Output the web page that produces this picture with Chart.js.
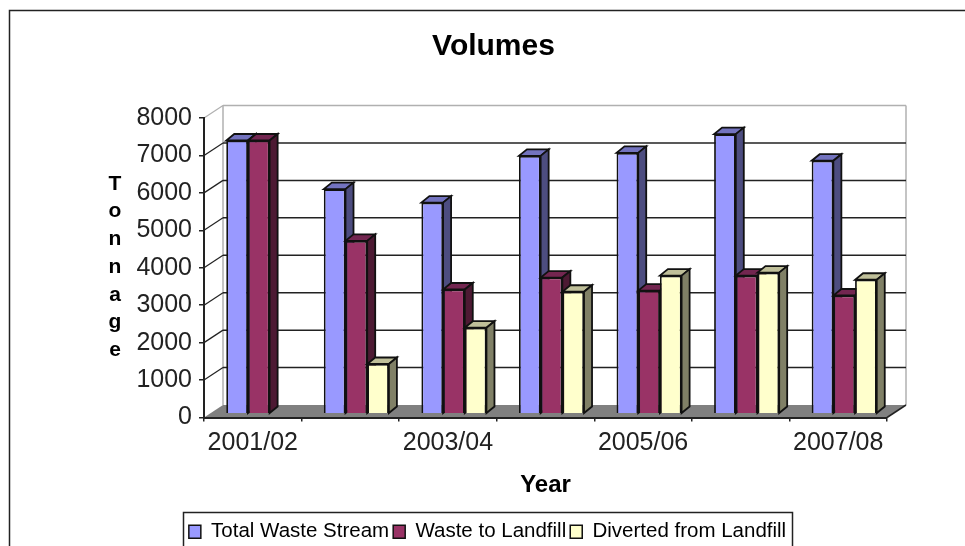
<!DOCTYPE html>
<html>
<head>
<meta charset="utf-8">
<style>
  html, body { margin: 0; padding: 0; background: #fff; overflow: hidden; }
  #wrap { width: 965px; height: 546px; position: relative; }
</style>
<script src="https://cdn.jsdelivr.net/npm/chart.js@4/dist/chart.umd.min.js"></script>
</head>
<body>
<div id="wrap"><canvas id="chart" width="965" height="546"></canvas></div>
<script>
const years = ['2001/02', '2002/03', '2003/04', '2004/05', '2005/06', '2006/07', '2007/08'];
const totalWasteStream = [7300, 6000, 5640, 6890, 6970, 7470, 6760];
const wasteToLandfill = [7300, 4620, 3320, 3640, 3290, 3690, 3160];
const divertedFromLandfill = [null, 1330, 2300, 3260, 3690, 3770, 3580];
const seriesNames = ['Total Waste Stream', 'Waste to Landfill', 'Diverted from Landfill'];
const faceColors = ['#9999FF', '#993366', '#FFFFCC'];
const topColors = ['#7373BF', '#732650', '#BFBF99'];
const sideColors = ['#4D4D80', '#4D1A33', '#808066'];
const axisLetters = ['T', 'o', 'n', 'n', 'a', 'g', 'e'];

const FONT = '"Liberation Sans", Arial, sans-serif';
const INK = '#222';

// Oblique offsets of the pseudo-3D projection
const WALL = { dx: 19, dy: -12.5 };
const BAR_PLANE = { dx: 6, dy: -3.7 };
const BAR_DEPTH = { dx: 8, dy: -6.5 };

function line(ctx, x1, y1, x2, y2, color, width) {
  ctx.strokeStyle = color;
  ctx.lineWidth = width;
  ctx.beginPath();
  ctx.moveTo(x1, y1);
  ctx.lineTo(x2, y2);
  ctx.stroke();
}

function poly(ctx, pts, fill, stroke) {
  ctx.beginPath();
  pts.forEach((p, i) => i ? ctx.lineTo(p[0], p[1]) : ctx.moveTo(p[0], p[1]));
  ctx.closePath();
  ctx.fillStyle = fill;
  ctx.fill();
  if (stroke) {
    ctx.strokeStyle = stroke;
    ctx.lineWidth = 1.8;
    ctx.stroke();
  }
}

// Back wall, floor, gridlines, outer frame, legend frame and the stacked axis title
const backdrop = {
  id: 'backdrop',
  afterLayout(chart) {
    // centre the title and legend on the whole sheet rather than the padded box
    chart.titleBlock.left += 45;
    chart.titleBlock.right += 45;
    chart.legend.left += 39;
    chart.legend.right += 39;
    chart.legend.top += 6;
  },
  beforeDraw(chart) {
    const { ctx, chartArea: a, scales: { y } } = chart;
    const { dx, dy } = WALL;
    ctx.save();
    ctx.fillStyle = '#fff';
    ctx.fillRect(0, 0, chart.width, chart.height);

    // sheet frame, running off the right and bottom edges
    ctx.strokeStyle = '#222';
    ctx.lineWidth = 1.5;
    ctx.strokeRect(9.5, 10.5, 1000, 600);

    // floor
    poly(ctx, [[a.left, a.bottom], [a.right, a.bottom], [a.right + dx, a.bottom + dy], [a.left + dx, a.bottom + dy]], '#808080');

    // back wall frame
    const wallGrey = '#b0b0b0';
    line(ctx, a.left + dx, a.top + dy, a.right + dx, a.top + dy, wallGrey, 1.5);
    line(ctx, a.left + dx, a.top + dy, a.left + dx, a.bottom + dy, wallGrey, 1.5);
    line(ctx, a.right + dx, a.top + dy, a.right + dx, a.bottom + dy, wallGrey, 1.5);
    line(ctx, a.left, a.top, a.left + dx, a.top + dy, wallGrey, 1.2);

    // gridlines run along the wall and turn down its side edge
    y.ticks.forEach(t => {
      if (t.value <= 0 || t.value >= y.max) return;
      const py = y.getPixelForValue(t.value);
      line(ctx, a.left, py, a.left + dx, py + dy, '#222', 1.2);
      line(ctx, a.left + dx, py + dy, a.right + dx, py + dy, '#222', 1.5);
    });
    line(ctx, a.right, a.bottom, a.right + dx, a.bottom + dy, '#222', 1.5);

    // legend frame, cut by the bottom edge
    ctx.strokeStyle = '#222';
    ctx.lineWidth = 1.5;
    ctx.strokeRect(183.5, 512.5, 609, 60);

    // stacked axis title
    ctx.fillStyle = '#000';
    ctx.font = 'bold 21px ' + FONT;
    ctx.textAlign = 'center';
    ctx.textBaseline = 'middle';
    axisLetters.forEach((ch, i) => ctx.fillText(ch, 115, 184 + i * 27.7));
    ctx.restore();
  },
  // Series are painted left to right so each bar's front hides its neighbour's side;
  // every bar gets top and side faces and sits in the middle of the floor's depth.
  beforeDatasetsDraw(chart) {
    const { ctx } = chart;
    const { dx, dy } = BAR_DEPTH;
    ctx.save();
    ctx.translate(BAR_PLANE.dx, BAR_PLANE.dy);
    chart.data.datasets.forEach((ds, i) => {
      const meta = chart.getDatasetMeta(i);
      meta.data.forEach((bar, j) => {
        if (ds.data[j] === null) return;
        const l = bar.x - bar.width / 2, r = bar.x + bar.width / 2;
        poly(ctx, [[l, bar.y], [r, bar.y], [r + dx, bar.y + dy], [l + dx, bar.y + dy]], topColors[i], '#111');
        poly(ctx, [[r, bar.y], [r + dx, bar.y + dy], [r + dx, bar.base + dy], [r, bar.base]], sideColors[i], '#111');
      });
      meta.controller.draw();
    });
    ctx.restore();
    return false;
  }
};

new Chart(document.getElementById('chart'), {
  type: 'bar',
  data: {
    labels: years,
    datasets: [totalWasteStream, wasteToLandfill, divertedFromLandfill].map((values, i) => ({
      label: seriesNames[i],
      data: values,
      backgroundColor: faceColors[i],
      borderColor: '#111',
      borderWidth: 1.8,
      categoryPercentage: 0.667,
      barPercentage: 1
    }))
  },
  options: {
    responsive: false,
    animation: false,
    layout: { padding: { left: 10, right: 78, top: 0, bottom: 0 } },
    plugins: {
      title: {
        display: true,
        text: 'Volumes',
        color: '#000',
        font: { family: FONT, size: 30, weight: 'bold' },
        padding: { top: 29, bottom: 53 }
      },
      legend: {
        position: 'bottom',
        onClick: null,
        labels: {
          color: INK,
          font: { family: FONT, size: 20.5 },
          boxWidth: 12,
          boxHeight: 13,
          padding: 4,
          generateLabels(chart) {
            return chart.data.datasets.map((d, i) => ({
              text: d.label,
              fillStyle: d.backgroundColor,
              strokeStyle: '#111',
              lineWidth: 1.5,
              datasetIndex: i
            }));
          }
        }
      },
      tooltip: { enabled: false }
    },
    scales: {
      x: {
        grid: { drawOnChartArea: false, drawTicks: true, tickLength: 4, color: '#222', lineWidth: 1.5 },
        border: { color: '#222', width: 2 },
        afterFit(s) { s.height = 94; },
        title: {
          display: true,
          text: 'Year',
          color: '#000',
          font: { family: FONT, size: 24, weight: 'bold' },
          padding: { top: 0, bottom: 12 }
        },
        ticks: {
          autoSkip: false,
          maxRotation: 0,
          color: INK,
          font: { family: FONT, size: 25 },
          padding: 7,
          callback(v, i) { return i % 2 === 0 ? years[i] : ''; }
        }
      },
      y: {
        min: 0,
        max: 8000,
        grid: { drawOnChartArea: false, drawTicks: true, tickLength: 5, color: '#222', lineWidth: 1.5 },
        border: { color: '#222', width: 2 },
        afterFit(s) { s.width = 194; },
        ticks: {
          stepSize: 1000,
          color: INK,
          font: { family: FONT, size: 25 },
          padding: 7,
          callback(v) { return String(v); }
        }
      }
    }
  },
  plugins: [backdrop]
});
</script>
</body>
</html>
